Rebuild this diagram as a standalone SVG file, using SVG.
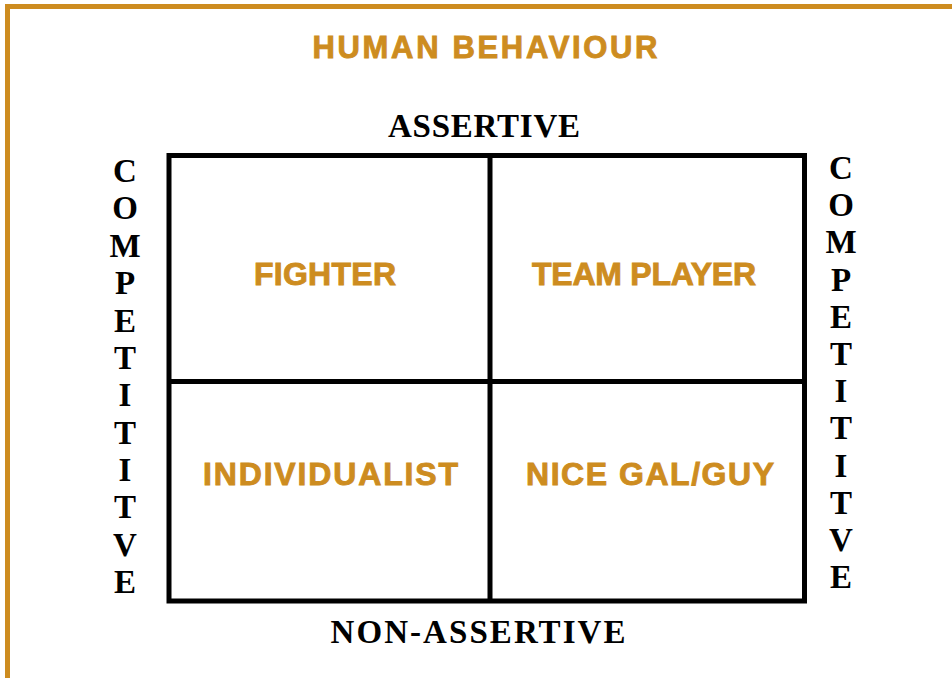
<svg xmlns="http://www.w3.org/2000/svg" width="952" height="678" viewBox="0 0 952 678">
<style>
.gold{fill:#CD8C20;stroke:#CD8C20;stroke-width:0.9;font-family:"Liberation Sans",Arial,sans-serif;font-weight:bold;text-anchor:middle}
.ser{fill:#000;font-family:"Liberation Serif","Times New Roman",serif;font-weight:bold;text-anchor:middle;font-size:33px}
.grid{fill:none;stroke:#000;stroke-width:5}
</style>
<rect x="0" y="0" width="952" height="678" fill="#fff"/>
<g id="frame"><rect x="7.5" y="6.5" width="960" height="700" fill="none" stroke="#CD8C20" stroke-width="5"/></g>
<g id="title"><text class="gold" x="485" y="58" font-size="31" textLength="345">HUMAN BEHAVIOUR</text></g>
<g id="axis-top"><text class="ser" x="484" y="137" textLength="192">ASSERTIVE</text></g>
<g id="axis-bottom"><text class="ser" x="478" y="643" textLength="295">NON-ASSERTIVE</text></g>
<g id="axis-left" class="ser">
<text x="125" y="182">C</text><text x="125" y="219.4">O</text><text x="125" y="256.8">M</text><text x="125" y="294.1">P</text><text x="125" y="331.5">E</text><text x="125" y="368.9">T</text><text x="125" y="406.3">I</text><text x="125" y="443.7">T</text><text x="125" y="481">I</text><text x="125" y="518.4">T</text><text x="125" y="555.8">V</text><text x="125" y="593">E</text>
</g>
<g id="axis-right" class="ser">
<text x="841" y="179">C</text><text x="841" y="216.2">O</text><text x="841" y="253.4">M</text><text x="841" y="290.6">P</text><text x="841" y="327.8">E</text><text x="841" y="365">T</text><text x="841" y="402.2">I</text><text x="841" y="439.4">T</text><text x="841" y="476.6">I</text><text x="841" y="513.8">T</text><text x="841" y="551">V</text><text x="841" y="588">E</text>
</g>
<g id="connectors">
<rect class="grid" x="169" y="155.5" width="635.5" height="445.5"/>
<line class="grid" x1="490" y1="155.5" x2="490" y2="601"/>
<line class="grid" x1="169" y1="381.5" x2="804.5" y2="381.5"/>
</g>
<g id="fighter"><text class="gold" x="325" y="285" font-size="32" textLength="142">FIGHTER</text></g>
<g id="team-player"><text class="gold" x="644" y="285" font-size="32" textLength="224">TEAM PLAYER</text></g>
<g id="individualist"><text class="gold" x="330.5" y="485" font-size="32" textLength="255">INDIVIDUALIST</text></g>
<g id="nice-gal-guy"><text class="gold" x="650" y="485" font-size="32" textLength="248">NICE GAL/GUY</text></g>
</svg>
